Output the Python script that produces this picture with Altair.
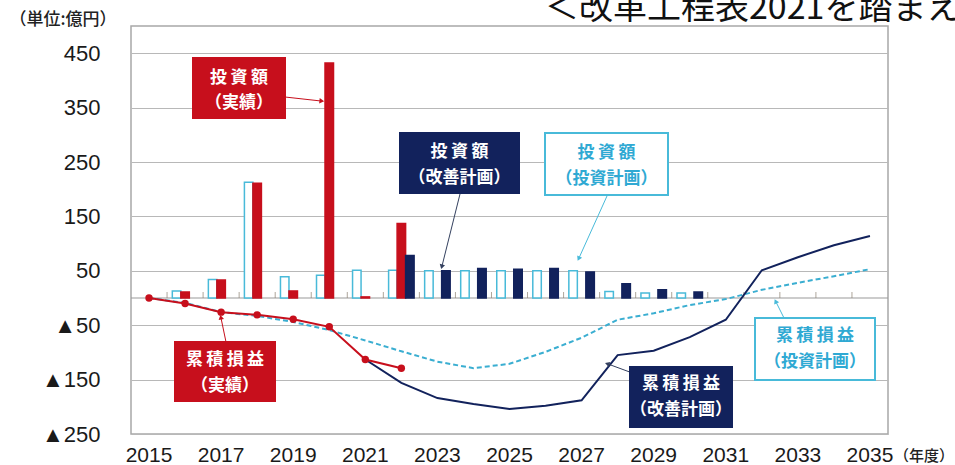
import altair as alt
import pandas as pd

# ---------------- data ----------------
years = list(range(2015, 2036))
label_years = list(range(2015, 2036, 2))

# 投資額（投資計画） – light-blue outline bars
plan_inv_years = [2016, 2017, 2018, 2019, 2020, 2021, 2022, 2023, 2024, 2025, 2026, 2027, 2028, 2029, 2030]
plan_inv_vals = [13, 34, 213, 39, 42, 51, 51, 50, 50, 50, 50, 50, 12, 9, 9]

# 投資額（実績） – red bars
act_inv_years = [2016, 2017, 2018, 2019, 2020, 2021, 2022]
act_inv_vals = [11, 33, 211, 13, 432, 2, 137]

# 投資額（改善計画） – navy bars
imp_inv_years = [2022, 2023, 2024, 2025, 2026, 2027, 2028, 2029, 2030]
imp_inv_vals = [78, 50, 54, 53, 54, 48, 26, 15, 11]

# 累積損益（実績） – red line with dots
act_cum_years = [2015, 2016, 2017, 2018, 2019, 2020, 2021, 2022]
act_cum_vals = [0, -10, -26, -31, -39, -53, -113, -129]

# 累積損益（改善計画） – navy line
imp_cum_years = list(range(2021, 2036))
imp_cum_vals = [-113, -156, -184, -195, -204, -198, -188, -105, -97, -72, -40, 51, 75, 97, 114]

# 累積損益（投資計画） – light-blue dashed line
plan_cum_years = list(range(2015, 2036))
plan_cum_vals = [0, -9, -26, -33, -44, -59, -78, -98, -117, -129, -121, -99, -73, -40, -28, -13, -2, 15, 28, 40, 53]

y_ticks = [450, 350, 250, 150, 50, -50, -150, -250]

series_order = ["投資計画", "実績", "改善計画"]

# ---------------- styles ----------------
RED = "#c70f1c"
NAVY = "#12225c"
LBLUE = "#48bad9"
LTEXT = "#2fa9d3"
GRID = "#b8b8b8"
JP = "Noto Sans CJK JP"
NUM = "Liberation Sans Narrow, Liberation Sans"

W, H = 757, 408

bars_df = pd.concat([
    pd.DataFrame({"year": plan_inv_years, "value": plan_inv_vals, "series": "投資計画"}),
    pd.DataFrame({"year": act_inv_years, "value": act_inv_vals, "series": "実績"}),
    pd.DataFrame({"year": imp_inv_years, "value": imp_inv_vals, "series": "改善計画"}),
], ignore_index=True)

act_cum_df = pd.DataFrame({"year": act_cum_years, "value": act_cum_vals})
imp_cum_df = pd.DataFrame({"year": imp_cum_years, "value": imp_cum_vals})
plan_cum_df = pd.DataFrame({"year": plan_cum_years, "value": plan_cum_vals})
tick_df = pd.DataFrame({"year": years[1:]})
xlab_df = pd.DataFrame({"year": label_years, "label": [str(y) for y in label_years]})

x_scale = alt.Scale(domain=years, paddingInner=0, paddingOuter=0)
x_axis = alt.Axis(labels=False, ticks=False, domain=False, grid=False, title=None)
y_scale = alt.Scale(domain=[-250, 500], nice=False, zero=False)
y_axis = alt.Axis(values=y_ticks, tickSize=0, domain=False, grid=True, gridColor=GRID,
                  gridWidth=1, labelPadding=31, title=None, labelFontSize=22, labelFont=NUM,
                  labelColor="#1a1a1a", labelOverlap=False, labelBound=False, labelFlush=False,
                  labelExpr="datum.value < 0 ? '▲' + abs(datum.value) : '' + datum.value")

X = alt.X("year:O", scale=x_scale, axis=x_axis)
Y = alt.Y("value:Q", scale=y_scale, axis=y_axis)

bars = alt.Chart(bars_df).mark_bar(strokeWidth=1.5).encode(
    x=X,
    y=Y,
    xOffset=alt.XOffset("series:N", scale=alt.Scale(domain=series_order, paddingInner=0, paddingOuter=0.62)),
    fill=alt.Fill("series:N", scale=alt.Scale(domain=series_order, range=["#ffffff", RED, NAVY]), legend=None),
    stroke=alt.Stroke("series:N", scale=alt.Scale(domain=series_order, range=[LBLUE, RED, NAVY]), legend=None),
)

zero_line = alt.Chart(pd.DataFrame({"v": [0]})).mark_rule(color="#9a9a9a", strokeWidth=1.2).encode(
    y=alt.Y("v:Q", scale=y_scale, axis=y_axis)
)

ticks = alt.Chart(tick_df).mark_tick(orient="vertical", color="#8c8070", thickness=1, size=6, yOffset=-3).encode(
    x=alt.X("year:O", scale=x_scale, axis=x_axis, bandPosition=0),
    y=alt.datum(0, scale=y_scale),
)

x_labels = alt.Chart(xlab_df).mark_text(font=NUM, fontSize=21, color="#1a1a1a", baseline="middle",
                                        align="center").encode(
    x=X, y=alt.value(H + 22), text="label:N"
)

plan_line = alt.Chart(plan_cum_df).mark_line(color="#3aaed1", strokeWidth=2, strokeDash=[5, 3]).encode(x=X, y=Y)
imp_line = alt.Chart(imp_cum_df).mark_line(color=NAVY, strokeWidth=2).encode(x=X, y=Y)
act_line = alt.Chart(act_cum_df).mark_line(color=RED, strokeWidth=2).encode(x=X, y=Y)
act_pts = alt.Chart(act_cum_df).mark_circle(color=RED, size=55, opacity=1).encode(x=X, y=Y)

one = pd.DataFrame({"a": [0]})


def box(x0, x1, y0, y1, fill, stroke, lines, text_color, line_y):
    layers = [
        alt.Chart(one).mark_rect(fill=fill, stroke=stroke, strokeWidth=2).encode(
            x=alt.value(x0), x2=alt.value(x1), y=alt.value(y0), y2=alt.value(y1))
    ]
    cx = (x0 + x1) / 2
    for t, ly in zip(lines, line_y):
        layers.append(
            alt.Chart(one).mark_text(text=t, font=JP, fontSize=17, fontWeight="bold", color=text_color,
                                     align="center", baseline="middle").encode(
                x=alt.value(cx), y=alt.value(ly))
        )
    return layers


def arrow(x0, y0, x1, y1, color, angle):
    return [
        alt.Chart(one).mark_rule(color=color, strokeWidth=1).encode(
            x=alt.value(x0), y=alt.value(y0), x2=alt.value(x1), y2=alt.value(y1)),
        alt.Chart(one).mark_point(shape="triangle", filled=True, color=color, size=30, angle=angle, opacity=1).encode(
            x=alt.value(x1), y=alt.value(y1)),
    ]


ts = "\u2009"
annots = []
# 投資額（実績）
annots += arrow(154, 71, 190, 75, RED, 96)
annots += box(62, 154, 32, 92, RED, RED, [f"投{ts}資{ts}額", "（実績）"], "white", [52, 77])
# 投資額（改善計画）
annots += arrow(329, 168, 311, 240, "#34405f", 194)
annots += box(269, 388, 107, 167, NAVY, NAVY, [f"投{ts}資{ts}額", "（改善計画）"], "white", [126, 152])
# 投資額（投資計画）
annots += arrow(476, 170, 448, 232, LBLUE, 205)
annots += box(414, 537, 107, 169, "white", LBLUE, [f"投{ts}資{ts}額", "（投資計画）"], LTEXT, [127, 153])
# 累積損益（実績）
annots += arrow(95, 316, 90, 292, RED, 348)
annots += box(44, 144, 316, 375, RED, RED, [f"累{ts}積{ts}損{ts}益", "（実績）"], "white", [334, 360])
# 累積損益（改善計画）
annots += arrow(515, 352, 477, 338, "#34405f", 290)
annots += box(499, 601, 341, 401, NAVY, NAVY, [f"累{ts}積{ts}損{ts}益", "（改善計画）"], "white", [358, 384])
# 累積損益（投資計画）
annots += arrow(653, 292, 645, 276, LBLUE, 334)
annots += box(624, 744, 292, 354, "white", LBLUE, [f"累{ts}積{ts}損{ts}益", "（投資計画）"], LTEXT, [310, 336])

# outside texts
unit_txt = alt.Chart(one).mark_text(text="（単位:億円）", font=JP, fontSize=17, fontWeight=500, color="#222",
                                    align="center", baseline="middle").encode(x=alt.value(-68), y=alt.value(-6))
year_txt = alt.Chart(one).mark_text(text="（年度）", font=JP, fontSize=15, fontWeight=500, color="#222",
                                    align="center", baseline="middle").encode(x=alt.value(793), y=alt.value(430))
title_txt = alt.Chart(one).mark_text(text="＜改革工程表2021を踏まえ", font=JP, fontSize=34, color="#111",
                                     align="left", baseline="alphabetic").encode(x=alt.value(414), y=alt.value(-7))

chart = alt.layer(
    zero_line, bars, ticks, plan_line, imp_line, act_line, act_pts, x_labels,
    *annots, unit_txt, year_txt, title_txt
).properties(
    width=W, height=H,
    autosize=alt.AutoSizeParams(type="none"),
    padding={"left": 131, "top": 26, "right": 67, "bottom": 31},
    background="white",
).configure_view(stroke="#a8a8a8", strokeWidth=1.5)

chart.save("out.html", embed_options={"renderer": "svg", "actions": False})
